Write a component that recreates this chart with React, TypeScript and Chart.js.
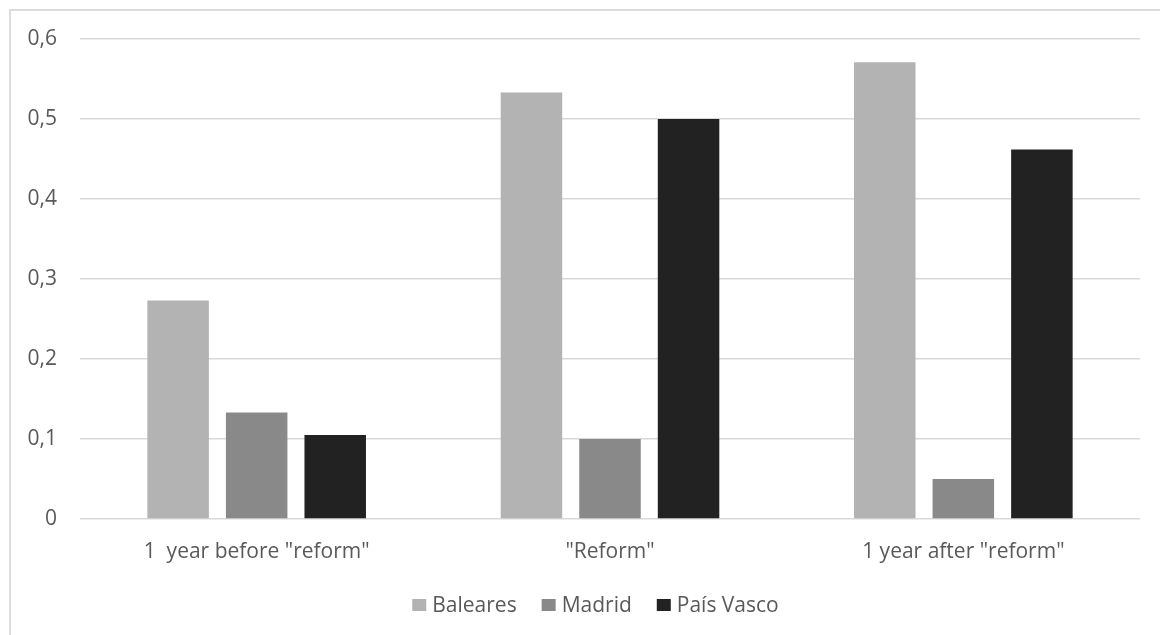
import React, { useEffect, useRef } from 'react';
import { Chart, registerables } from 'chart.js';

Chart.register(...registerables);

// Groups along the category axis
const categories = ['1  year before "reform"', '"Reform"', '1 year after "reform"'];

// Share per region in each period
const seriesNames = ['Baleares', 'Madrid', 'País Vasco'];
const baleares = [0.273, 0.533, 0.571];
const madrid = [0.133, 0.1, 0.05];
const paisVasco = [0.105, 0.5, 0.462];
const seriesColors = ['#b3b3b3', '#898989', '#222222'];

// Value axis
const yMin = 0;
const yMax = 0.6;
const yStep = 0.1;

const FONT_FAMILY = '"Open Sans", "Liberation Sans", sans-serif';
const FONT_SIZE = 21;
const TEXT_COLOR = '#595959';
const GRID_COLOR = '#d9d9d9';

const formatTick = (v: number) => (Math.abs(v) < 1e-9 ? '0' : v.toFixed(1).replace('.', ','));

// Legend row beneath the axis: square swatch, short gap, label
const seriesLegend = {
  id: 'seriesLegend',
  afterDraw(chart: any) {
    const ctx: CanvasRenderingContext2D = chart.ctx;
    const area = chart.chartArea;
    const box = 14;
    const boxH = 12;
    const textGap = 6;
    const itemGap = 25;
    ctx.save();
    ctx.font = `${FONT_SIZE}px ${FONT_FAMILY}`;
    ctx.textBaseline = 'middle';
    ctx.textAlign = 'left';
    const items = chart.data.datasets.map((ds: any) => ({
      label: ds.label as string,
      color: ds.backgroundColor as string,
      w: ctx.measureText(ds.label).width,
    }));
    const total =
      items.reduce((s: number, it: any) => s + box + textGap + it.w, 0) + itemGap * (items.length - 1);
    let x = chart.width / 2 - total / 2 + 3;
    const cy = area.bottom + 86;
    for (const it of items) {
      ctx.fillStyle = it.color;
      ctx.fillRect(x, cy - boxH / 2, box, boxH);
      x += box + textGap;
      ctx.fillStyle = TEXT_COLOR;
      ctx.fillText(it.label, x, cy + 1);
      x += it.w + itemGap;
    }
    ctx.restore();
  },
};

export default function App() {
  const canvasRef = useRef<HTMLCanvasElement | null>(null);

  useEffect(() => {
    const canvas = canvasRef.current;
    if (!canvas) return;
    const values = [baleares, madrid, paisVasco];
    const chart = new Chart(canvas, {
      type: 'bar',
      data: {
        labels: categories,
        datasets: seriesNames.map((name, i) => ({
          label: name,
          data: values[i],
          backgroundColor: seriesColors[i],
          borderWidth: 0,
          categoryPercentage: 0.667,
          barPercentage: 0.783,
        })),
      },
      options: {
        animation: false,
        responsive: false,
        maintainAspectRatio: false,
        layout: { padding: { top: 28, right: 34, bottom: 0, left: 0 } },
        plugins: {
          legend: { display: false },
          tooltip: { enabled: false },
        },
        scales: {
          x: {
            grid: { display: false, drawTicks: false },
            border: { display: false },
            ticks: {
              color: TEXT_COLOR,
              font: { family: FONT_FAMILY, size: FONT_SIZE },
              padding: 20,
              maxRotation: 0,
              autoSkip: false,
            },
            afterFit: (scale: any) => {
              scale.height = 116;
            },
          },
          y: {
            min: yMin,
            max: yMax,
            grid: { color: GRID_COLOR, lineWidth: 1.5, drawTicks: false },
            border: { display: false },
            ticks: {
              stepSize: yStep,
              color: TEXT_COLOR,
              font: { family: FONT_FAMILY, size: FONT_SIZE },
              padding: 23,
              callback: (v: any) => formatTick(Number(v)),
            },
            afterFit: (scale: any) => {
              scale.width = 69;
              // the top/bottom room is set by the layout padding and the x axis
              scale.paddingTop = 0;
              scale.paddingBottom = 0;
            },
          },
        },
      },
      plugins: [seriesLegend],
    });
    return () => chart.destroy();
  }, []);

  return (
    <div style={{ position: 'fixed', inset: 0, overflow: 'hidden', background: '#ffffff' }}>
      <div
        style={{
          position: 'absolute',
          left: 9,
          top: 9,
          width: 1163,
          height: 640,
          border: '2px solid #dcdcdc',
          background: '#ffffff',
        }}
      >
        <canvas
          ref={canvasRef}
          width={1163}
          height={624}
          style={{ display: 'block', width: 1163, height: 624 }}
        />
      </div>
    </div>
  );
}
